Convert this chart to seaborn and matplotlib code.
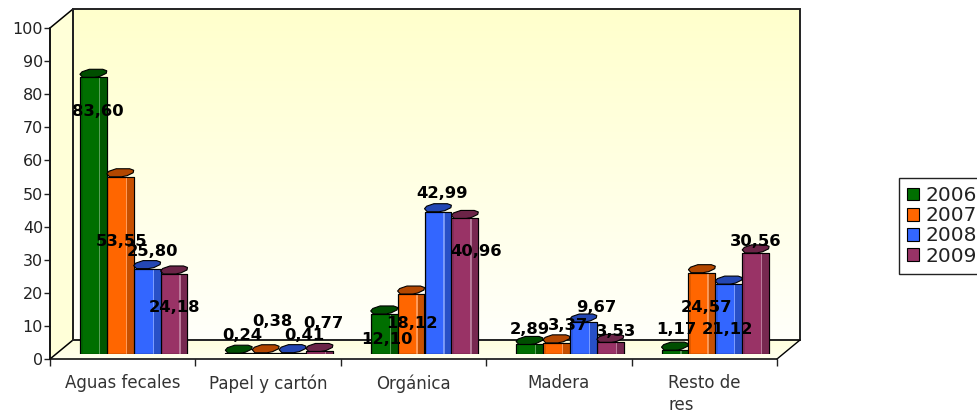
import numpy as np
import pandas as pd
import seaborn as sns
import matplotlib
matplotlib.use('Agg')
import matplotlib.pyplot as plt
from matplotlib.colors import LinearSegmentedColormap, to_rgb
from matplotlib.patches import Polygon, Rectangle

categorias = ['Aguas fecales', 'Papel y cartón', 'Orgánica', 'Madera', 'Resto de\nres']
anios = ['2006', '2007', '2008', '2009']
v2006 = [83.60, 0.24, 12.10, 2.89, 1.17]
v2007 = [53.55, 0.38, 18.12, 3.37, 24.57]
v2008 = [25.80, 0.41, 42.99, 9.67, 21.12]
v2009 = [24.18, 0.77, 40.96, 3.53, 30.56]
colores = ['#006F00', '#FF6600', '#3366FF', '#993366']
marcas_y = list(range(0, 101, 10))

# posicion de las etiquetas en pixeles (estan sueltas en el original)
etiq_x = [[98, 242, 387, 530, 676], [122, 272, 412, 568, 707], [153, 304, 442, 596, 727], [175, 323, 476, 616, 756]]
etiq_y = [[112, 335, 340, 329, 329], [241, 321, 323, 326, 307], [252, 336, 193, 307, 329], [308, 323, 252, 331, 241]]

valores = [v2006, v2007, v2008, v2009]
df = pd.DataFrame({
    'tipo': categorias * 4,
    'anio': [a for a in anios for _ in categorias],
    'valor': v2006 + v2007 + v2008 + v2009,
})

sns.set_theme(style='white')
plt.rcParams['font.family'] = ['DejaVu Sans']

W, H = 978, 416
fig = plt.figure(figsize=(W / 100, H / 100), dpi=100)

# fondo en pixeles: paredes de la caja 3D
fondo = fig.add_axes([0, 0, 1, 1])
grad = LinearSegmentedColormap.from_list('pared', ['#FFFFCC', '#FFFFFA'])
fondo.imshow(np.linspace(0, 1, 256).reshape(-1, 1), cmap=grad, extent=[73, 800, 340, 9], aspect='auto', zorder=1)
grad_suelo = LinearSegmentedColormap.from_list('suelo', ['#FFFFDC', '#FFFFEE'])
img = fondo.imshow(np.linspace(0, 1, 64).reshape(-1, 1), cmap=grad_suelo, extent=[50, 800, 359, 340], aspect='auto', zorder=1)
img.set_clip_path(Polygon([(50, 359), (73, 340), (800, 340), (777, 359)], transform=fondo.transData))
fondo.set_xlim(0, W)
fondo.set_ylim(H, 0)
fondo.axis('off')
fondo.add_patch(Polygon([(50, 28), (73, 9), (73, 340), (50, 359)], fc='#FFFFD8', ec='black', lw=1.1, zorder=2))
fondo.add_patch(Polygon([(73, 9), (800, 9), (800, 340), (73, 340)], fc='none', ec='#222222', lw=1.4, zorder=3))
fondo.plot([777, 800], [359, 340], color='black', lw=1, zorder=3)

# ejes delanteros con la escala real
ax = fig.add_axes([50 / W, (H - 359) / H, 727 / W, 331 / H])
ax.patch.set_visible(False)
ax.set_xlim(-0.5, 4.5)
ax.set_ylim(0, 100)
ax.set_yticks(marcas_y)
ax.set_xticks(np.arange(-0.5, 5, 1))
ax.set_xticklabels([])
ax.set_xticks(range(5), categorias, minor=True, multialignment='left', linespacing=1.25)
ax.tick_params(axis='x', which='major', direction='out', length=5, width=1, color='#222222', bottom=True)
ax.tick_params(axis='x', which='minor', length=0, pad=11, labelsize=12, labelcolor='#333333')
ax.tick_params(axis='y', direction='out', length=4, width=1, color='#222222', left=True, pad=1, labelsize=11.5, labelcolor='#222222')
for lado in ['top', 'right']:
    ax.spines[lado].set_visible(False)
for lado in ['left', 'bottom']:
    ax.spines[lado].set_color('#111111')
    ax.spines[lado].set_linewidth(1.2)

# barras: misma escala, desplazadas hacia el fondo de la caja
ax_b = fig.add_axes([61 / W, (H - 354) / H, 727 / W, 331 / H])
sns.barplot(data=df, x='tipo', y='valor', hue='anio', palette=colores, saturation=1, width=0.74, gap=0,
            edgecolor='black', linewidth=0.8, ax=ax_b)
ax_b.set_xlim(-0.5, 4.5)
ax_b.set_ylim(0, 100)
ax_b.axis('off')

py = 100 / 331
for cont, col in zip(ax_b.containers, colores):
    base = np.array(to_rgb(col))
    osc = base * 0.78
    tapa = base * 0.7
    for i, b in enumerate(cont):
        x0, w, alto = b.get_x(), b.get_width(), b.get_height()
        z = 3 + i
        b.set_zorder(z)
        # lado oscuro y brillo de la columna
        ax_b.add_patch(Rectangle((x0 + w * 0.74, 0), w * 0.26, alto, fc=osc, ec='none', zorder=z))
        ax_b.add_patch(Rectangle((x0 + w * 0.70, 0), w * 0.05, alto, fc=base * 0.5 + 0.5, ec='none', alpha=0.7, zorder=z))
        ax_b.add_patch(Rectangle((x0, 0), w * 0.1, alto, fc=base * 0.88, ec='none', zorder=z))
        ax_b.add_patch(Rectangle((x0, 0), w, alto, fc='none', ec='black', lw=0.8, zorder=z))
        # tapa superior octogonal
        puntos = [(0, 3), (0.08, 5.5), (0.35, 8), (0.85, 8), (1.0, 6.5), (0.98, 4), (0.75, 1), (0.55, 0), (0.1, 0)]
        ax_b.add_patch(Polygon([(x0 + a * w, alto + d * py) for a, d in puntos], fc=tapa, ec='black', lw=0.8,
                               zorder=z + 0.5, clip_on=False))

ax_b.legend(loc='upper left', bbox_to_anchor=(899 / W, 1 - 178 / H), bbox_transform=fig.transFigure,
            borderaxespad=0, fontsize=14.5, frameon=True, fancybox=False, edgecolor='#222222', framealpha=1,
            handlelength=0.6, handleheight=0.6, handletextpad=0.3, borderpad=0.4, labelspacing=0.06,
            labelcolor='#222222', title=None)

fondo.set_zorder(0)
ax.set_zorder(1)
ax_b.set_zorder(2)

# las etiquetas van encima de las barras
capa = fig.add_axes([0, 0, 1, 1])
capa.set_xlim(0, W)
capa.set_ylim(H, 0)
capa.axis('off')
capa.set_zorder(3)
for fila, xs, ys in zip(valores, etiq_x, etiq_y):
    for v, x, y in zip(fila, xs, ys):
        capa.text(x, y, f'{v:.2f}'.replace('.', ','), ha='center', va='center', fontsize=11.8, fontweight='bold',
                  color='black')

plt.savefig('out.png', dpi=100)
